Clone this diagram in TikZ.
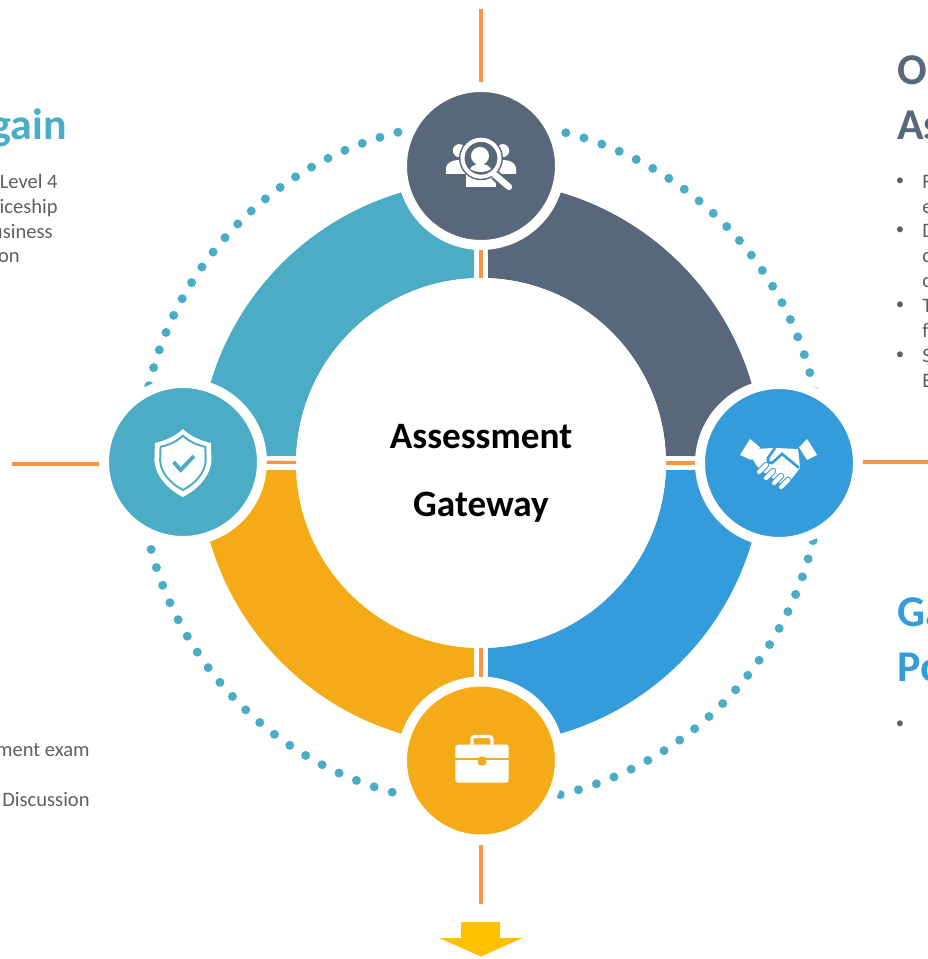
\documentclass[tikz,border=0pt]{standalone}
\usepackage{fontspec}
\setmainfont{Carlito}
\definecolor{ringslate}{HTML}{586779}
\definecolor{ringteal}{HTML}{4BACC6}
\definecolor{ringblue}{HTML}{359CDC}
\definecolor{ringamber}{HTML}{F5AB18}
\definecolor{linkorange}{HTML}{F79646}
\definecolor{arrowgold}{HTML}{FFC000}
\definecolor{bodygray}{HTML}{5F5F5F}
\newcommand{\shieldpath}{(0,33) .. controls (-7,26) and (-18,21) .. (-28,19) -- (-28.5,2) .. controls (-28,-14) and (-14,-28) .. (0,-35) .. controls (14,-28) and (28,-14) .. (28.5,2) -- (28,19) .. controls (18,21) and (7,26) .. (0,33) -- cycle}
\begin{document}
\begin{tikzpicture}[scale=0.02]
\tikzstyle{badge}=[circle, draw=white, line width=5.67pt, minimum size=3.16cm, inner sep=0pt]
\tikzstyle{hub}=[circle, fill=white, minimum size=7.4cm, inner sep=0pt, outer sep=0pt]
\tikzstyle{link}=[linkorange, line width=1.8pt]
\tikzstyle{headtext}=[font=\fontsize{25}{25}\selectfont\bfseries, inner sep=0pt]
\tikzstyle{bodytext}=[font=\fontsize{11.7}{11.7}\selectfont, text=bodygray, inner sep=0pt]
\tikzstyle{bullettext}=[font=\fontsize{9.5}{9.5}\selectfont, text=bodygray, inner sep=0pt]
\tikzstyle{hubtext}=[font=\fontsize{21.2}{21.2}\selectfont\bfseries, inner sep=0pt]
\useasboundingbox (-481,-496) rectangle (447,463);

% dotted circle
\foreach \a in {75.6,72.43,...,-166} {
\fill [ringteal] (\a:341) circle (4.5);
}
\foreach \a in {104.1,107.24,...,168} {
\fill [ringteal] (\a:341) circle (4.5);
}

% ring
\foreach \a/\c in {0/ringslate,90/ringteal,180/ringamber,270/ringblue} {
\fill [\c] (\a+1.42:282) arc [start angle=\a+1.42, end angle=\a+88.58, radius=282]
 -- (\a+87.83:185) arc [start angle=\a+87.83, end angle=\a+2.17, radius=185] -- cycle;
}

\node [hub] (gatewayhub) at (0,0) {};
\node [badge, fill=ringslate] (peoplenode) at (0,297) {};
\node [badge, fill=ringteal] (shieldnode) at (-298,1) {};
\node [badge, fill=ringblue] (handnode) at (298,0) {};
\node [badge, fill=ringamber] (casenode) at (0,-297.5) {};

\node [hubtext] (hubtop) at (0,26) {Assessment};
\node [hubtext] (hubbottom) at (0,-44) {Gateway};

% orange links
\draw [link] (gatewayhub) -- (peoplenode);
\draw [link] (gatewayhub) -- (shieldnode);
\draw [link] (gatewayhub) -- (handnode);
\draw [link] (gatewayhub) -- (casenode);
\coordinate (topend) at (0,454);
\coordinate (leftend) at (-469,-1);
\coordinate (rightend) at (447,1);
\coordinate (bottomend) at (0,-441);
\draw [link] (topend) -- (peoplenode);
\draw [link] (leftend) -- (leftend -| shieldnode.west);
\draw [link] (rightend) -- (rightend -| handnode.east);
\draw [link] (bottomend) -- (casenode);

% arrow at the bottom
\fill [arrowgold] (-20,-459) -- (19,-459) -- (19,-475) -- (41.5,-475) -- (0,-493.5) -- (-42,-475) -- (-20,-475) -- cycle;

% people with magnifier
\begin{scope}[shift={(peoplenode.center)}]
\fill [white] (-21.7,15.3) circle (6.5);
\fill [white] (21.7,15.3) circle (6.5);
\fill [white] (-35,-8) -- (-35,-2) .. controls (-35,3) and (-28,6) .. (-22,6) .. controls (-16,6) and (-14,3) .. (-12,0) -- (-12,-8) -- cycle;
\fill [white] (35,-8) -- (35,-2) .. controls (35,3) and (28,6) .. (22,6) .. controls (16,6) and (14,3) .. (12,0) -- (12,-8) -- cycle;
\fill [white] (-15,-21) -- (15,-21) -- (15,-8) -- (-15,-8) -- cycle;
\fill [ringslate] (0,7.7) circle (22);
\draw [white, line width=2.3pt] (0,7.7) circle (18.5);
\fill [white] (-1,10) circle (9);
\fill [white] (-11,-3) .. controls (-9,1) and (-4,2) .. (-1,2) .. controls (3,2) and (8,1) .. (10,-3) .. controls (5,-7) and (-5,-7) .. (-11,-3) -- cycle;
\draw [ringslate, line width=6pt] (14,-9) -- (29,-23);
\draw [white, line width=3.6pt, line cap=round] (14,-9) -- (28,-21);
\end{scope}

% shield
\begin{scope}[shift={(shieldnode.center)}]
\fill [white] \shieldpath;
\begin{scope}[scale=0.8]
\draw [ringteal, line width=1.1pt] \shieldpath;
\end{scope}
\draw [ringteal, line width=2.2pt] (-9.3,0) -- (-2.3,-8) -- (11,6);
\end{scope}

% handshake
\begin{scope}[shift={(handnode.center)}, yshift=0.03cm]
\fill [white] (-39,8) -- (-29,24) -- (-19,15.6) -- (-28,3) -- cycle;
\fill [white] (38,8) -- (28,24) -- (20,15.6) -- (28,3) -- cycle;
\fill [white] (-24,14) -- (-5,15) -- (19,14) -- (21,-5) -- (10,-19) -- (4,-22) -- (-20,-6) -- (-28,6) -- cycle;
\draw [ringblue, line width=1.5pt] (-4,15) -- (-11,5) .. controls (-12,1) and (-9,-1) .. (-7,0) -- (3,9) -- (20,-5);
\foreach \x/\y in {-20/-9,-13/-15,-5/-20,2/-24} {
\draw [ringblue, line width=3.6pt, line cap=round] (\x,\y) -- (\x+7,\y+7);
\draw [white, line width=2.4pt, line cap=round] (\x,\y) -- (\x+7,\y+7);
}
\end{scope}

% briefcase
\begin{scope}[shift={(casenode.center)}]
\draw [white, line width=1.8pt, rounded corners=1.5] (-9,16) -- (-9,24) -- (11,24) -- (11,16);
\fill [white, rounded corners=1.5] (-25.7,16) rectangle (27.7,-22);
\draw [ringamber, line width=1.1pt] (-25.7,2) -- (27.7,2);
\fill [ringamber, rounded corners=1] (-3,4) rectangle (5,-4.7);
\end{scope}

% headings
\node [headtext, text=ringteal, anchor=base east] (gainhead) at (-414,323) {gain};
\node [headtext, text=ringslate, anchor=base west] (ohead) at (416,378) {O};
\node [headtext, text=ringslate, anchor=base west] (ashead) at (416,323) {As};
\node [headtext, text=ringblue, anchor=base west] (gahead) at (416,-163) {Ga};
\node [headtext, text=ringblue, anchor=base west] (pohead) at (416,-218) {Po};

% clipped text, left side
\foreach \x/\y/\t in {-423/274/Level 4,-423/249/iceship,-428/224/usiness,-461/200/on,-391/-293/ment exam,-391/-343/Discussion} {
\node [bodytext, anchor=base east] (left\y) at (\x,\y) {\t};
}

% clipped text, right side
\foreach \y/\t in {274/F,249/e,225/D,200/c,175/c,150/T,125/f,100/S,75/E} {
\node [bodytext, anchor=base west] (right\y) at (441,\y) {\t};
}
\foreach \y in {277,228,153,103,-265} {
\node [bullettext, anchor=base] (bullet\y) at (419,\y) {•};
}
\end{tikzpicture}
\end{document}
